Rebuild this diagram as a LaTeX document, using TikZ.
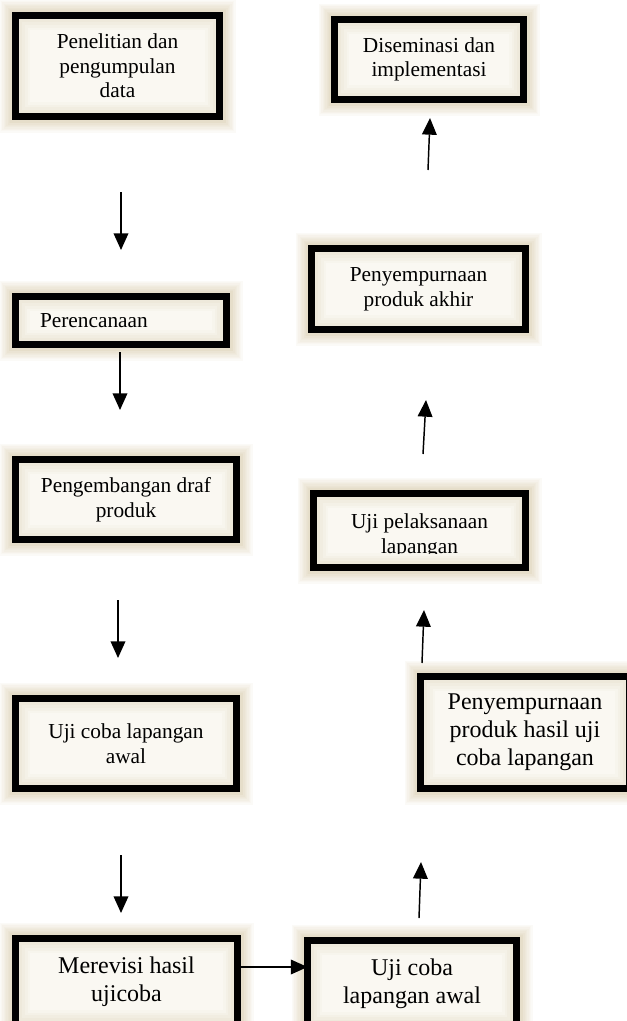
\documentclass[tikz,border=0pt]{standalone}
\usepackage{fontspec}
\setmainfont{Liberation Serif}
\usetikzlibrary{arrows.meta}
\definecolor{krem}{RGB}{250,248,242}
\definecolor{kremtua}{RGB}{222,212,186}
\definecolor{bayang}{RGB}{226,216,190}
\tikzset{every picture/.style={line width=0.75pt}}
\tikzset{
  tahap/.style={draw=black, line width=5.25pt, fill=krem, outer sep=0pt,
    align=center, inner sep=2pt, font=\fontsize{16}{18.5}\selectfont,
    preaction={draw=bayang, line width=24pt, draw opacity=0.12},
    preaction={draw=bayang, line width=20pt, draw opacity=0.14},
    preaction={draw=bayang, line width=16pt, draw opacity=0.16},
    preaction={draw=bayang, line width=12pt, draw opacity=0.2},
    preaction={draw=bayang, line width=9pt, draw opacity=0.25},
    postaction={draw=kremtua, line width=22pt, draw opacity=0.08},
    postaction={draw=kremtua, line width=18pt, draw opacity=0.1},
    postaction={draw=kremtua, line width=14pt, draw opacity=0.12},
    postaction={draw=kremtua, line width=10pt, draw opacity=0.15},
    postaction={draw=black, line width=5.25pt}},
  besar/.style={font=\fontsize{18}{21}\selectfont},
  teks/.style={align=center, inner sep=0pt, font=\fontsize{16}{18.5}\selectfont},
  panah/.style={-{Triangle[width=11pt,length=12.5pt]}, line width=1.1pt},
}

\begin{document}
\begin{tikzpicture}[x=0.75pt,y=0.75pt,yscale=-1,xscale=1]
\useasboundingbox (0,0) rectangle (626,1021);

%Shape: Rectangle [id:teliti]
\node [tahap, minimum width=153pt, minimum height=75.75pt] (teliti) at (117.5,66) {Penelitian dan\\pengumpulan\\data};
%Shape: Rectangle [id:rencana]
\node [tahap, minimum width=158.25pt, minimum height=36pt, align=left, text width=121.5pt, inner xsep=18.4pt] (rencana) at (121,320.5) {Perencanaan};
%Shape: Rectangle [id:kembang]
\node [tahap, minimum width=165.75pt, minimum height=60pt] (kembang) at (126,499.5) {Pengembangan draf\\produk};
%Shape: Rectangle [id:awal]
\node [tahap, minimum width=165.75pt, minimum height=67.5pt] (awal) at (126,743.5) {Uji coba lapangan\\awal};
%Shape: Rectangle [id:revisi]
\node [tahap, besar, minimum width=166.5pt, minimum height=64.5pt] (revisi) at (126.5,981.5) {Merevisi hasil\\ujicoba};
%Shape: Rectangle [id:ujiawal]
\node [tahap, besar, minimum width=156.75pt, minimum height=64.5pt] (ujiawal) at (412,983.5) {Uji coba\\lapangan awal};
%Shape: Rectangle [id:hasil]
\node [tahap, besar, minimum width=156.75pt, minimum height=84pt] (hasil) at (525,732.5) {Penyempurnaan\\produk hasil uji\\coba lapangan};
%Shape: Rectangle [id:laksana]
\node [tahap, minimum width=159pt, minimum height=55.5pt] (laksana) at (419.5,530.5) {};
%Shape: Rectangle [id:akhir]
\node [tahap, minimum width=160.5pt, minimum height=60.75pt] (akhir) at (418.5,289) {Penyempurnaan\\produk akhir};
%Shape: Rectangle [id:sebar]
\node [tahap, minimum width=141.75pt, minimum height=60pt] (sebar) at (429,59.5) {Diseminasi dan\\implementasi};

% Text Node (cut at the baseline)
\begin{scope}
\clip (320,500) rectangle (520,553);
\node [teks] (tlaksana) at (419.5,536) {Uji pelaksanaan\\lapangan};
\end{scope}

%Straight Lines [left column]
\coordinate (p1a) at (121,192);
\coordinate (p1b) at (121,250);
\coordinate (p2a) at (120,352);
\coordinate (p2b) at (120,410);
\coordinate (p3a) at (118,600);
\coordinate (p3b) at (118,658);
\coordinate (p4a) at (121,855);
\coordinate (p4b) at (121,913);
\draw [panah] (p1a) -- (p1b);
\draw [panah] (p2a) -- (p2b);
\draw [panah] (p3a) -- (p3b);
\draw [panah] (p4a) -- (p4b);

%Straight Lines [bottom]
\draw [panah] (revisi.east |- 0,967) -- (ujiawal.west |- 0,967);

%Straight Lines [right column]
\coordinate (q1a) at (419,918);
\coordinate (q1b) at (421,862);
\coordinate (q2a) at (422,663);
\coordinate (q2b) at (424,610);
\coordinate (q3a) at (423,454);
\coordinate (q3b) at (426,400);
\coordinate (q4a) at (428,170);
\coordinate (q4b) at (430,118);
\draw [panah] (q1a) -- (q1b);
\draw [panah] (q2a) -- (q2b);
\draw [panah] (q3a) -- (q3b);
\draw [panah] (q4a) -- (q4b);

\end{tikzpicture}
\end{document}
